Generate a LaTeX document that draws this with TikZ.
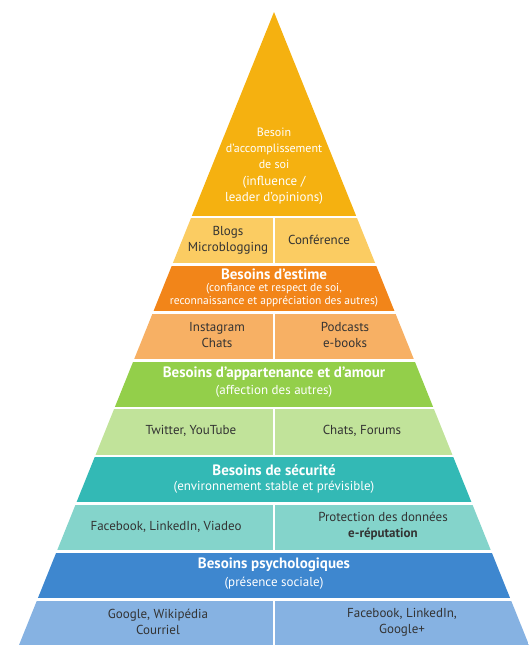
\documentclass[tikz,border=0pt]{standalone}
\usepackage{fontspec}
\setmainfont{PT Sans}
\definecolor{accomp}{HTML}{F5B110}
\definecolor{accompl}{HTML}{FBCC62}
\definecolor{estime}{HTML}{F28519}
\definecolor{estimel}{HTML}{F7B064}
\definecolor{amour}{HTML}{93CF4A}
\definecolor{amourl}{HTML}{C1E39A}
\definecolor{secu}{HTML}{33B9B5}
\definecolor{secul}{HTML}{84D4CB}
\definecolor{psycho}{HTML}{3E87CF}
\definecolor{psychol}{HTML}{86B2E2}
\definecolor{txt}{HTML}{333333}
\tikzset{
  title/.style={inner sep=0pt, align=center, text=white, font=\fontsize{15}{17}\selectfont\bfseries},
  sub/.style={inner sep=0pt, align=center, text=white, font=\fontsize{13}{16}\selectfont},
  item/.style={inner sep=0pt, align=center, text=txt, font=\fontsize{13}{16}\selectfont},
  divider/.style={white, line width=2.5pt}
}
\begin{document}
\begin{tikzpicture}[x=1pt, y=-1pt]
\useasboundingbox (0,0) rectangle (529,652);

\begin{scope}
\clip (274,12) -- (529,645) -- (19,645) -- cycle;
\foreach \top/\bot/\col in {12/215.5/accomp, 218/263/accompl, 265.5/311/estime, 313.5/359/estimel,
    361.5/406.5/amour, 409/454.5/amourl, 457/502/secu, 504.5/550/secul, 552.5/598/psycho, 600.5/645/psychol}
  \fill[\col] (0,\top) rectangle (529,\bot);
\foreach \top/\bot in {218/263, 313.5/359, 409/454.5, 504.5/550, 600.5/645}
  \draw[divider] (274,\top) -- (274,\bot);
\end{scope}

\node[sub, font=\fontsize{12}{16}\selectfont] (acc) at (274,148)
  {Besoin\\d'accomplissement\\de soi};
\node[sub] (accsub) at (274,190) {(influence /\\leader d'opinions)};

\node[item] (blogs) at (228,240) {Blogs\\Microblogging};
\node[item] (conf) at (319,240) {Conférence};

\node[title] (estime) at (274,274) {Besoins d'estime};
\node[sub, font=\fontsize{11.5}{13}\selectfont] (estimesub) at (274,295) {(confiance et respect de soi,\\reconnaissance et appréciation des autres)};

\node[item] (insta) at (217,335) {Instagram\\Chats};
\node[item] (podcasts) at (345,335) {Podcasts\\e-books};

\node[title] (appart) at (274,374) {Besoins d'appartenance et d'amour};
\node[sub] (appartsub) at (274,391) {(affection des autres)};

\node[item] (twitter) at (191,431) {Twitter, YouTube};
\node[item] (forums) at (362,431) {Chats, Forums};

\node[title] (secu) at (274,470) {Besoins de sécurité};
\node[sub] (secusub) at (274,487) {(environnement stable et prévisible)};

\node[item] (viadeo) at (166,527) {Facebook, LinkedIn, Viadeo};
\node[item] (protect) at (383,526) {Protection des données\\\textbf{e-réputation}};

\node[title] (psycho) at (274,565) {Besoins psychologiques};
\node[sub] (psychosub) at (274,583) {(présence sociale)};

\node[item] (google) at (158,622) {Google, Wikipédia\\Courriel};
\node[item] (gplus) at (402,622) {Facebook, LinkedIn,\\Google+};
\end{tikzpicture}
\end{document}
